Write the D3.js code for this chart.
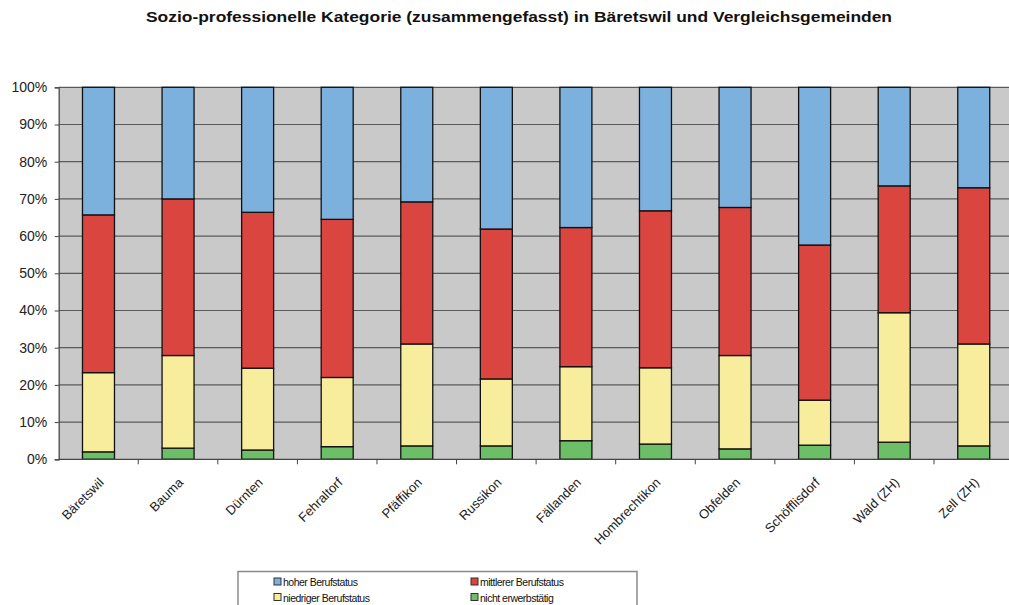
<!DOCTYPE html>
<html><head><meta charset="utf-8">
<script src="https://cdn.jsdelivr.net/npm/d3@7"></script>
<style>body{margin:0;background:#fff;} svg{display:block;font-family:"Liberation Sans",Arial,sans-serif;}</style>
</head><body>
<svg id="c" width="1009" height="605"></svg>
<script>
const title = "Sozio-professionelle Kategorie (zusammengefasst) in Bäretswil und Vergleichsgemeinden";
const categories = ["Bäretswil","Bauma","Dürnten","Fehraltorf","Pfäffikon","Russikon","Fällanden","Hombrechtikon","Obfelden","Schöfflisdorf","Wald (ZH)","Zell (ZH)"];
const seriesNames = ["nicht erwerbstätig","niedriger Berufstatus","mittlerer Berufstatus","hoher Berufstatus"];
// shares in percent
const nichtErwerbstaetig = [2.0,3.0,2.5,3.4,3.6,3.6,5.0,4.1,2.8,3.8,4.6,3.6];
const niedriger = [21.3,24.9,22.0,18.6,27.4,18.0,19.9,20.5,25.1,12.1,34.8,27.4];
const mittlerer = [42.4,42.1,41.9,42.5,38.2,40.3,37.4,42.2,39.8,41.7,34.1,42.0];
const hoher = [34.3,30.0,33.6,35.5,30.8,38.1,37.7,33.2,32.3,42.4,26.5,27.0];
const yTicks = [0,10,20,30,40,50,60,70,80,90,100];
const colors = {"nicht erwerbstätig":"#6cbf66","niedriger Berufstatus":"#f7ed9c","mittlerer Berufstatus":"#db4540","hoher Berufstatus":"#7cb1de"};

const svg = d3.select("#c");
const mLeft = 58.7, mTop = 87.3, mBottom = 459.3, step = 79.57;
const mRight = mLeft + step * categories.length;

const x = d3.scaleBand().domain(categories).range([mLeft, mRight]).paddingInner(0.598).paddingOuter(0.299);
const y = d3.scaleLinear().domain([0,100]).range([mBottom, mTop]);

const rows = categories.map((c,i)=>({cat:c,"nicht erwerbstätig":nichtErwerbstaetig[i],"niedriger Berufstatus":niedriger[i],"mittlerer Berufstatus":mittlerer[i],"hoher Berufstatus":hoher[i]}));
const stack = d3.stack().keys(seriesNames).offset(d3.stackOffsetExpand)(rows);

// title
svg.append("text").attr("x", 519).attr("y", 22).attr("text-anchor","middle")
  .attr("font-weight","bold").attr("font-size", 15).attr("fill","#111")
  .attr("textLength", 746).attr("lengthAdjust","spacingAndGlyphs").text(title);

// plot background
svg.append("rect").attr("x", mLeft).attr("y", mTop).attr("width", mRight-mLeft).attr("height", mBottom-mTop).attr("fill","#c9c9c9");

// gridlines
svg.append("g").selectAll("line").data(yTicks.slice(1)).join("line")
  .attr("x1", mLeft).attr("x2", mRight).attr("y1", d=>y(d)).attr("y2", d=>y(d))
  .attr("stroke","#5a5a5a").attr("stroke-width",1.2);

// bars
svg.append("g").selectAll("g").data(stack).join("g")
  .attr("fill", d=>colors[d.key])
  .selectAll("rect").data(d=>d).join("rect")
  .attr("x", d=>x(d.data.cat)).attr("width", x.bandwidth())
  .attr("y", d=>y(d[1]*100)).attr("height", d=>y(d[0]*100)-y(d[1]*100))
  .attr("stroke","#111").attr("stroke-width",1.3);

// y axis
const yAxis = d3.axisLeft(y).tickValues(yTicks).tickFormat(d=>d+"%").tickSize(4).tickPadding(7.5);
const gy = svg.append("g").attr("transform",`translate(${mLeft},0)`).call(yAxis);
gy.select(".domain").attr("stroke","#444").attr("stroke-width",1.2);
gy.selectAll(".tick line").attr("stroke","#444");
gy.selectAll("text").attr("font-size",14).attr("fill","#222");

// x axis
const gx = svg.append("g").attr("transform",`translate(0,${mBottom})`);
gx.append("line").attr("x1",mLeft).attr("x2",mRight).attr("stroke","#444").attr("stroke-width",1.2);
gx.selectAll("line.t").data(categories).join("line").attr("class","t")
  .attr("x1", d=>x(d)-x.step()*0.299+x.step()).attr("x2", d=>x(d)-x.step()*0.299+x.step())
  .attr("y1",0).attr("y2",5).attr("stroke","#444");
gx.selectAll("text").data(categories).join("text")
  .attr("transform", d=>`translate(${x(d)+x.bandwidth()/2+6},${24}) rotate(-45)`)
  .attr("text-anchor","end").attr("font-size",13).attr("fill","#222").text(d=>d);

// legend
const lg = svg.append("g");
lg.append("rect").attr("x",238).attr("y",571.5).attr("width",399).attr("height",40)
  .attr("fill","#fff").attr("stroke","#8a8a8a").attr("stroke-width",1.5);
const legendItems = [
  {k:"hoher Berufstatus", x:278, y:582},
  {k:"mittlerer Berufstatus", x:475, y:582},
  {k:"niedriger Berufstatus", x:278, y:597.5},
  {k:"nicht erwerbstätig", x:475, y:597.5}
];
const li = lg.selectAll("g").data(legendItems).join("g").attr("transform", d=>`translate(${d.x},${d.y})`);
li.append("rect").attr("x",-4).attr("y",-4).attr("width",7).attr("height",7)
  .attr("fill", d=>colors[d.k]).attr("stroke","#333").attr("stroke-width",1);
li.append("text").attr("x",5).attr("y",4).attr("font-size",10.5).attr("fill","#111")
  .attr("letter-spacing","-0.5").text(d=>d.k);
</script>
</body></html>
